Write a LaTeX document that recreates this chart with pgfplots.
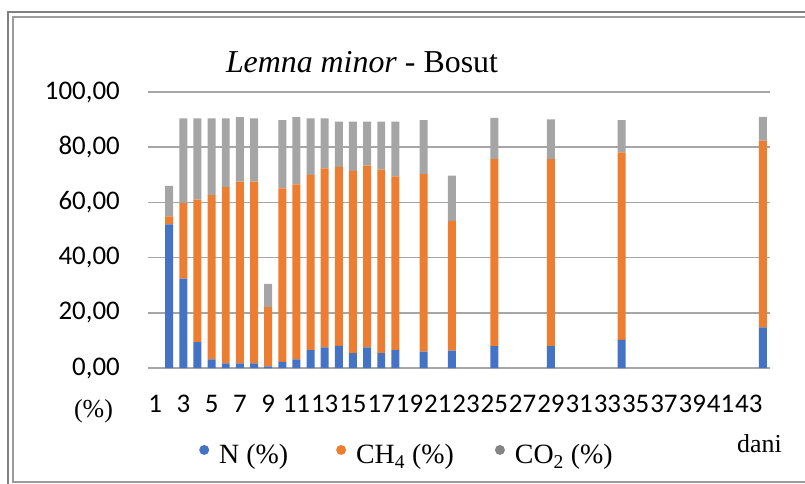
\documentclass[border=0pt]{standalone}
\usepackage{fontspec}
\setmainfont{Liberation Serif}
\newfontfamily\calibri{Carlito}
\usepackage{pgfplots}
\usepackage{pgfplotstable}
\pgfplotsset{compat=1.18}
\definecolor{cN}{HTML}{4472C4}
\definecolor{cCH}{HTML}{ED7D31}
\definecolor{cCO}{HTML}{A5A5A5}
\definecolor{gridc}{HTML}{A6A6A6}
\definecolor{frameA}{HTML}{808080}
\definecolor{frameB}{HTML}{9C9C9C}

\pgfplotstableread{
day N CH4 CO2
1 52.0 2.9 11.1
2 32.4 27.3 30.7
3 9.4 51.6 29.4
4 3.1 59.5 27.8
5 1.7 63.8 24.9
6 1.7 65.8 23.4
7 1.7 65.8 22.9
8 0.6 21.5 8.4
9 2.2 62.9 24.7
10 3.1 63.4 24.4
11 6.5 63.5 20.4
12 7.5 64.8 18.1
13 8.0 64.9 16.4
14 5.4 66.0 17.9
15 7.5 65.8 16.0
16 5.4 66.5 17.4
17 6.5 62.9 19.9
19 5.9 64.3 19.6
21 6.3 47.0 16.4
24 7.9 67.8 14.9
28 7.9 67.8 14.4
33 10.2 67.9 11.7
43 14.7 67.7 8.6
}\datatable

\begin{document}
\begin{tikzpicture}
\useasboundingbox (-148bp,-116bp) rectangle (657bp,368bp);
% frame
\draw[frameA, line width=2.5bp] (-140bp,-120bp) -- (-140bp,356bp) -- (660bp,356bp);
\draw[frameB, line width=2bp] (660bp,-113.5bp) -- (-134.5bp,-113.5bp) -- (-134.5bp,351bp) -- (660bp,351bp);
\begin{axis}[
  at={(0,0)}, anchor=south west,
  scale only axis, width=622bp, height=276bp,
  xmin=-0.5, xmax=43.5, ymin=0, ymax=100,
  ybar stacked, bar width=0.565,
  xtick={0,2,...,42},
  xticklabels={1,3,5,7,9,11,13,15,17,19,21,23,25,27,29,31,33,35,37,39,41,43},
  ytick={0,20,...,100},
  ymajorgrids, major grid style={gridc, line width=1.4bp},
  axis line style={draw=none},
  major tick length=0pt, tick style={draw=none},
  /pgf/number format/assume math mode=true,
  ticklabel style={font=\calibri\fontsize{27}{27}\selectfont, inner sep=0pt},
  yticklabel style={xshift=-28bp, /pgf/number format/.cd, fixed, fixed zerofill, precision=2, use comma},
  xticklabel style={yshift=-27bp},
  legend columns=3,
  legend style={at={(axis description cs:0.082,-0.315)}, anchor=west, draw=none, fill=none,
    font=\fontsize{28}{28}\selectfont, inner sep=0pt,
    nodes={inner sep=0pt},
    /tikz/column 1/.style={column sep=10bp},
    /tikz/column 2/.style={column sep=48bp},
    /tikz/column 3/.style={column sep=10bp},
    /tikz/column 4/.style={column sep=41bp},
    /tikz/column 5/.style={column sep=10bp}},
]
\addplot+[fill=cN, draw=none, legend image code/.code={\fill[cN] (5bp,5bp) circle (5bp);}] table[x=day, y=N] {\datatable};
\addplot+[fill=cCH, draw=none, legend image code/.code={\fill[cCH] (5bp,5bp) circle (5bp);}] table[x=day, y=CH4] {\datatable};
\addplot+[fill=cCO, draw=none, legend image code/.code={\fill[cCO!80!black] (5bp,5bp) circle (5bp);}] table[x=day, y=CO2] {\datatable};
\legend{N (\%), CH\textsubscript{4} (\%), CO\textsubscript{2} (\%)}
\end{axis}
\node[font=\fontsize{32}{32}\selectfont, anchor=base] at (214bp,295bp) {\textit{Lemna minor} - Bosut};
\node[font=\fontsize{26}{26}\selectfont, inner sep=0pt] at (-54.5bp,-43.5bp) {(\%)};
\node[font=\fontsize{26}{26}\selectfont, inner sep=0pt, anchor=base west] at (589bp,-84bp) {dani};
\end{tikzpicture}
\end{document}
